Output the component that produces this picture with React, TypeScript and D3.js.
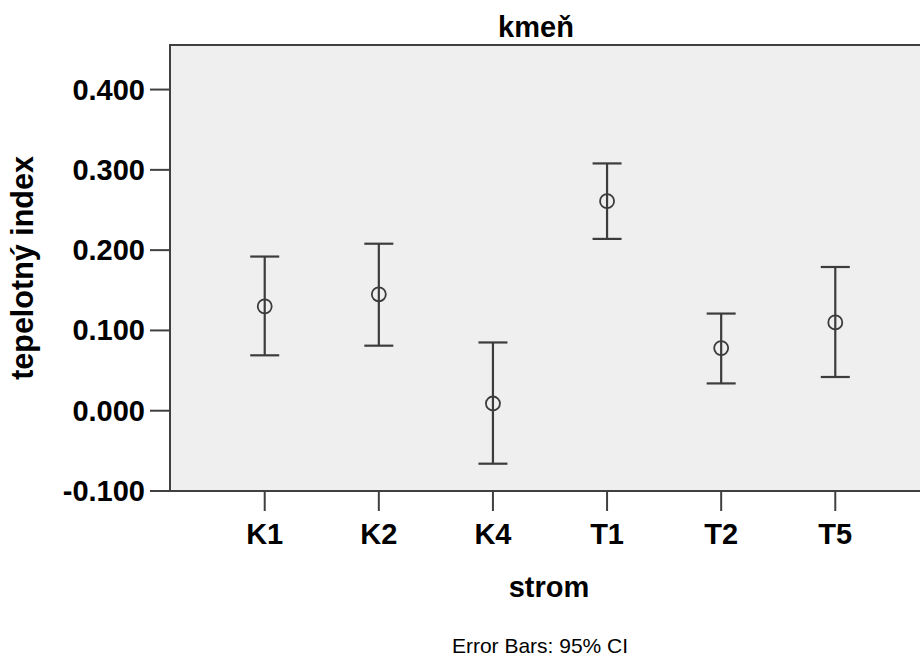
import React from "react";
import * as d3 from "d3";

const categories = ["K1", "K2", "K4", "T1", "T2", "T5"];
const means = [0.130, 0.145, 0.009, 0.261, 0.078, 0.110];
const lowerCI = [0.069, 0.081, -0.066, 0.214, 0.034, 0.042];
const upperCI = [0.192, 0.208, 0.085, 0.308, 0.121, 0.179];
const yTicks = [-0.1, 0.0, 0.1, 0.2, 0.3, 0.4];

const W = 920;
const H = 660;
const plotLeft = 170;
const plotRight = 930;
const plotTop = 45;
const plotBottom = 491;
const FONT = "'Liberation Sans', Arial, Helvetica, sans-serif";
const INK = "#3c3c3c";

export default function App() {
  const x = d3.scalePoint<string>().domain(categories).range([plotLeft, plotRight]).padding(0.83);
  const y = d3.scaleLinear().domain([-0.1, 0.4555]).range([plotBottom, plotTop]);
  const fmt = (v: number) => d3.format(".3f")(v).replace("\u2212", "-");
  const capHalf = 14.5;

  return (
    <svg width={W} height={H} style={{ position: "absolute", left: 0, top: 0, display: "block", background: "#fff" }}>
      <rect x={plotLeft} y={plotTop} width={plotRight - plotLeft} height={plotBottom - plotTop} fill="#efefef" stroke="#404040" strokeWidth={2} />
      {yTicks.map((t) => (
        <g key={t}>
          <line x1={plotLeft - 20} x2={plotLeft} y1={y(t)} y2={y(t)} stroke="#404040" strokeWidth={2} />
          <text x={145} y={y(t) + 10} textAnchor="end" fontFamily={FONT} fontWeight="bold" fontSize={29} fill="#000">
            {fmt(t)}
          </text>
        </g>
      ))}
      {categories.map((c) => (
        <g key={c}>
          <line x1={x(c)} x2={x(c)} y1={plotBottom} y2={plotBottom + 20} stroke="#404040" strokeWidth={2} />
          <text x={x(c)} y={544} textAnchor="middle" fontFamily={FONT} fontWeight="bold" fontSize={29} fill="#000">
            {c}
          </text>
        </g>
      ))}
      {categories.map((c, i) => {
        const cx = x(c) as number;
        return (
          <g key={"eb" + c} stroke={INK} fill="none">
            <line x1={cx} x2={cx} y1={y(upperCI[i])} y2={y(lowerCI[i])} strokeWidth={2.2} />
            <line x1={cx - capHalf} x2={cx + capHalf} y1={y(upperCI[i])} y2={y(upperCI[i])} strokeWidth={2.2} />
            <line x1={cx - capHalf} x2={cx + capHalf} y1={y(lowerCI[i])} y2={y(lowerCI[i])} strokeWidth={2.2} />
            <circle cx={cx} cy={y(means[i])} r={7} strokeWidth={1.8} />
          </g>
        );
      })}
      <text x={536} y={37} textAnchor="middle" fontFamily={FONT} fontWeight="bold" fontSize={29} fill="#000">
        kmeň
      </text>
      <text x={549} y={597} textAnchor="middle" fontFamily={FONT} fontWeight="bold" fontSize={29} fill="#000">
        strom
      </text>
      <text transform={`translate(33,${(plotTop + plotBottom) / 2}) rotate(-90)`} textAnchor="middle" fontFamily={FONT} fontWeight="bold" fontSize={30.5} fill="#000">
        tepelotný index
      </text>
      <text x={540} y={653} textAnchor="middle" fontFamily={FONT} fontSize={21} fill="#000">
        Error Bars: 95% CI
      </text>
    </svg>
  );
}
